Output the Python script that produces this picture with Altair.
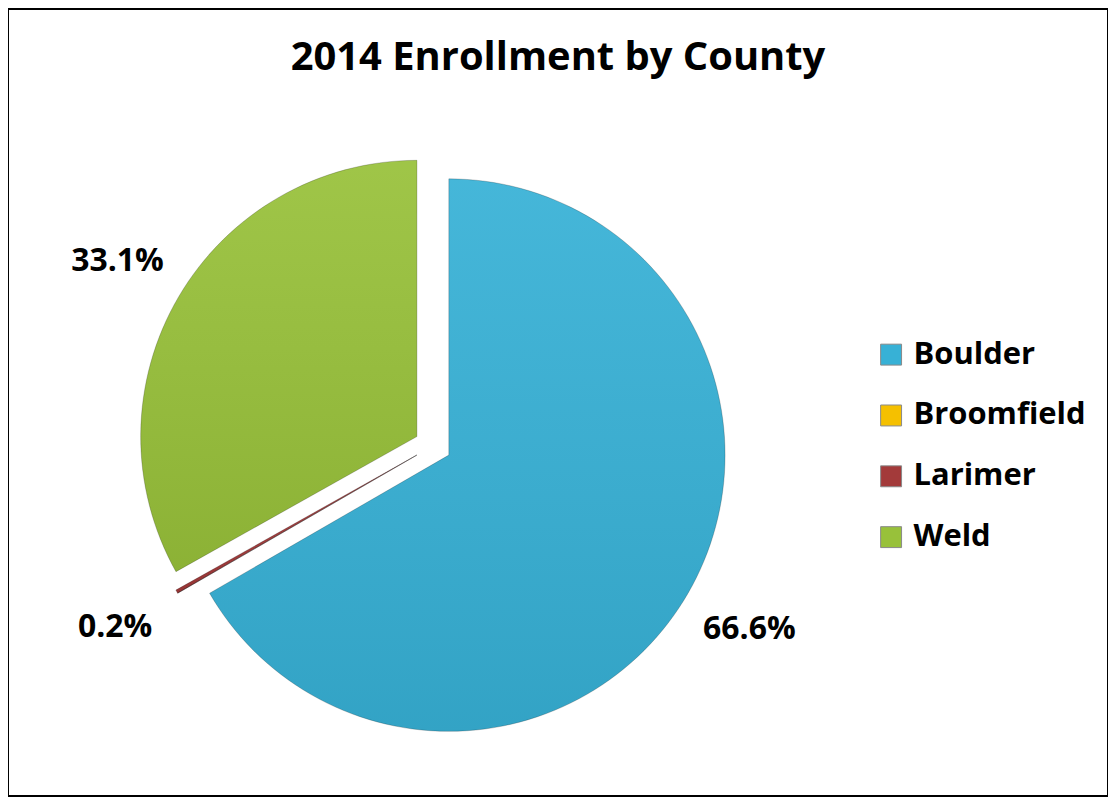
import altair as alt
import pandas as pd

# ---- data ----
counties = ["Boulder", "Broomfield", "Larimer", "Weld"]
shares = [66.6, 0.0, 0.2, 33.1]          # percent of 2014 enrollment
colors = ["#37B1D6", "#F5C000", "#A33A3A", "#98C13A"]
title_text = "2014 Enrollment by County"

df = pd.DataFrame({"county": counties, "share": shares, "order": list(range(len(counties)))})

# ---- layout / style constants ----
W, H = 1103, 789
CX, CY = 426, 438        # pie centre (pixels in the plot area)
EXPLODE = 18.5           # slice explosion distance
R = 277                  # pie radius
LABEL_R = 348            # label distance from slice vertex
FONT = "Open Sans"

base = (
    alt.Chart(df)
    .transform_window(cum="sum(share)", sort=[alt.SortField("order")], frame=[None, 0])
    .transform_joinaggregate(total="sum(share)")
    .transform_calculate(
        t0="2*PI*(datum.cum - datum.share)/datum.total",
        t1="2*PI*datum.cum/datum.total",
    )
    .transform_calculate(tm="(datum.t0 + datum.t1)/2")
    .transform_calculate(
        cxs=f"{CX} + {EXPLODE}*sin(datum.tm)",
        cys=f"{CY} - {EXPLODE}*cos(datum.tm)",
        lx=f"{CX} + {EXPLODE + LABEL_R}*sin(datum.tm)",
        ly=f"{CY} - {EXPLODE + LABEL_R}*cos(datum.tm)",
        label="format(datum.share, '.1f') + '%'",
    )
)

pos = dict(
    theta=alt.Theta("t0:Q", scale=None, stack=False),
    theta2=alt.Theta2("t1:Q"),
    x=alt.X("cxs:Q", scale=None, axis=None),
    y=alt.Y("cys:Q", scale=None, axis=None),
)

arcs = base.mark_arc(radius=R).encode(
    color=alt.Color(
        "county:N",
        scale=alt.Scale(domain=counties, range=colors),
        sort=counties,
        legend=alt.Legend(
            title=None,
            orient="none",
            legendX=870,
            legendY=331,
            symbolType="square",
            symbolSize=440,
            symbolStrokeColor="#8a8a8a",
            symbolStrokeWidth=1,
            symbolOpacity=1,
            labelFont=FONT,
            labelFontSize=31,
            labelFontWeight="bold",
            labelColor="black",
            labelOffset=7,
            rowPadding=29,
            labelLimit=300,
        ),
    ),
    **pos,
)

shade = base.mark_arc(
    radius=R,
    fill=alt.Gradient(
        gradient="linear",
        x1=0, y1=0, x2=0, y2=1,
        stops=[
            alt.GradientStop(offset=0, color="rgba(255,255,255,0.07)"),
            alt.GradientStop(offset=1, color="rgba(0,0,0,0.08)"),
        ],
    ),
    stroke="rgba(0,0,0,0.2)",
    strokeWidth=1,
).encode(**pos)

labels = base.transform_filter("datum.share > 0").mark_text(
    font=FONT, fontSize=32, fontWeight="bold", color="black"
).encode(
    x=alt.X("lx:Q", scale=None, axis=None),
    y=alt.Y("ly:Q", scale=None, axis=None),
    text="label:N",
)

chart = (
    alt.layer(arcs, shade, labels)
    .properties(
        width=W,
        height=H,
        padding=0,
        background="white",
        autosize=alt.AutoSizeParams(type="none"),
        title=alt.Title(
            title_text,
            font=FONT,
            fontSize=40,
            fontWeight="bold",
            color="black",
            anchor="middle",
            baseline="top",
            offset=-35,
            dy=34,
        ),
    )
    .configure_view(stroke="black", strokeWidth=2, fill="white")
)

chart.save("out.html", embed_options={"renderer": "svg", "actions": False})
